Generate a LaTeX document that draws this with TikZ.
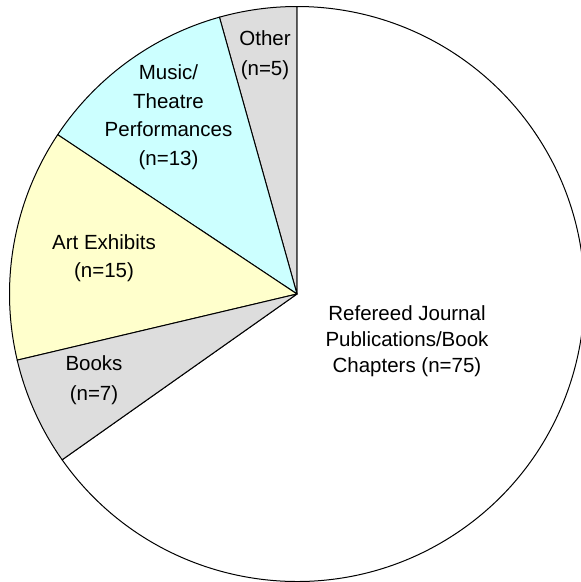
\documentclass[tikz,border=0pt]{standalone}
\usepackage{fontspec}
\setmainfont{Liberation Sans}
\definecolor{slicegray}{HTML}{DDDDDD}
\definecolor{slicecyan}{HTML}{CCFFFF}
\definecolor{sliceyellow}{HTML}{FFFFCC}
\tikzset{
  every picture/.style={line join=round, line cap=round},
  slice/.style={draw=black, line width=1pt},
  lbl/.style={align=center, inner sep=0pt, font=\fontsize{20.5}{#1}\selectfont},
  lbl/.default=28,
}

\begin{document}
\begin{tikzpicture}[x=1pt,y=1pt]
\useasboundingbox (-297,-288) rectangle (284,294);
\def\R{287.5}
\filldraw[slice,fill=white](0,0)--(215.217:\R) arc[start angle=215.217,end angle=450,radius=\R]--cycle;
\filldraw[slice,fill=slicegray](0,0)--(90:\R) arc[start angle=90,end angle=105.652,radius=\R]--cycle;
\filldraw[slice,fill=slicecyan](0,0)--(105.652:\R) arc[start angle=105.652,end angle=146.348,radius=\R]--cycle;
\filldraw[slice,fill=sliceyellow](0,0)--(146.348:\R) arc[start angle=146.348,end angle=193.304,radius=\R]--cycle;
\filldraw[slice,fill=slicegray](0,0)--(193.304:\R) arc[start angle=193.304,end angle=215.217,radius=\R]--cycle;
\node[lbl=30] (other) at (-32,239) {Other\\(n=5)};
\node[lbl=28.5] (music) at (-128.5,177) {Music/\\Theatre\\Performances\\(n=13)};
\node[lbl=28] (art) at (-193,36) {Art Exhibits\\(n=15)};
\node[lbl=30] (books) at (-203,-86) {Books\\(n=7)};
\node[lbl=26] (refereed) at (110,-47) {Refereed Journal\\Publications/Book\\Chapters (n=75)};
\end{tikzpicture}
\end{document}
